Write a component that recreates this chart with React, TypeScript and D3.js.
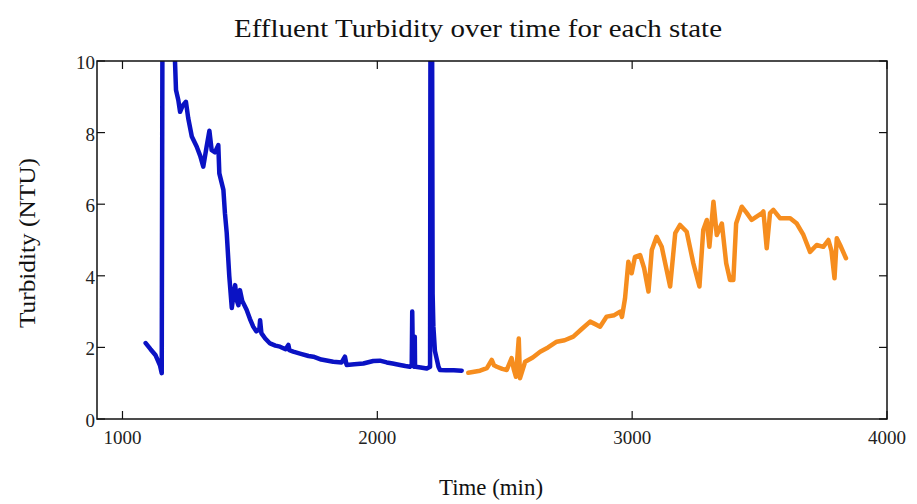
import React from "react";
import * as d3 from "d3";

const title = "Effluent Turbidity over time for each state";
const xLabel = "Time (min)";
const yLabel = "Turbidity (NTU)";
const xTicks = [1000, 2000, 3000, 4000];
const yTicks = [0, 2, 4, 6, 8, 10];

// State 1 (blue)
const blueTime = [1091, 1110, 1130, 1147, 1154, 1158, 1200, 1206, 1210, 1219, 1226, 1236, 1249, 1258, 1272, 1291, 1305, 1317, 1330, 1341, 1350, 1363, 1376, 1380, 1396, 1402, 1409, 1419, 1429, 1436, 1442, 1449, 1455, 1461, 1470, 1487, 1500, 1513, 1525, 1537, 1540, 1545, 1560, 1579, 1600, 1618, 1640, 1651, 1655, 1670, 1700, 1730, 1749, 1780, 1827, 1860, 1873, 1878, 1880, 1910, 1945, 1984, 2010, 2037, 2060, 2089, 2110, 2128, 2135, 2137, 2140, 2144, 2147, 2148, 2150, 2170, 2194, 2207, 2209, 2214, 2217, 2220, 2226, 2240, 2246, 2270, 2300, 2331];
const blueValue = [2.12, 1.95, 1.78, 1.5, 1.28, 15, 15, 10.0, 9.19, 8.91, 8.58, 8.75, 8.86, 8.4, 7.89, 7.61, 7.35, 7.05, 7.6, 8.05, 7.51, 7.45, 7.65, 6.86, 6.4, 5.75, 5.2, 4.0, 3.1, 3.5, 3.74, 3.3, 3.18, 3.6, 3.3, 3.05, 2.8, 2.58, 2.45, 2.5, 2.76, 2.4, 2.25, 2.11, 2.05, 2.02, 1.95, 2.07, 1.92, 1.88, 1.82, 1.76, 1.74, 1.66, 1.6, 1.58, 1.74, 1.55, 1.51, 1.53, 1.55, 1.62, 1.63, 1.58, 1.55, 1.51, 1.48, 1.46, 1.5, 3.0, 1.5, 1.46, 2.3, 1.5, 1.46, 1.44, 1.41, 1.46, 14, 14, 3.5, 2.58, 1.9, 1.46, 1.37, 1.36, 1.36, 1.35];

// State 2 (orange)
const orangeTime = [2357, 2380, 2403, 2430, 2449, 2458, 2469, 2490, 2508, 2527, 2535, 2544, 2555, 2560, 2580, 2610, 2639, 2670, 2704, 2735, 2769, 2800, 2835, 2855, 2874, 2900, 2930, 2953, 2960, 2972, 2985, 2998, 3011, 3031, 3047, 3064, 3077, 3096, 3116, 3149, 3169, 3188, 3214, 3240, 3264, 3279, 3293, 3303, 3319, 3332, 3352, 3369, 3384, 3397, 3408, 3430, 3450, 3469, 3509, 3515, 3528, 3541, 3554, 3580, 3620, 3646, 3672, 3698, 3724, 3750, 3770, 3782, 3794, 3803, 3816, 3839];
const orangeValue = [1.29, 1.32, 1.35, 1.42, 1.65, 1.5, 1.46, 1.4, 1.37, 1.7, 1.4, 1.18, 2.25, 1.14, 1.6, 1.72, 1.88, 2.0, 2.16, 2.2, 2.3, 2.5, 2.72, 2.65, 2.58, 2.86, 2.9, 3.0, 2.85, 3.37, 4.39, 4.07, 4.53, 4.58, 4.21, 3.56, 4.72, 5.09, 4.81, 3.7, 5.19, 5.42, 5.23, 4.35, 3.7, 5.28, 5.56, 4.81, 6.07, 5.14, 5.46, 4.35, 3.88, 3.88, 5.46, 5.93, 5.75, 5.56, 5.75, 5.8, 4.77, 5.75, 5.84, 5.61, 5.61, 5.46, 5.14, 4.67, 4.86, 4.81, 5.0, 4.7, 3.93, 5.05, 4.86, 4.49];

export default function App() {
  const W = 917, H = 504;
  const left = 97, right = 887, top = 61, bottom = 419;
  const x = d3.scaleLinear().domain([900, 4000]).range([left, right]);
  const y = d3.scaleLinear().domain([0, 10]).range([bottom, top]);
  const line = d3.line<[number, number]>().x(d => x(d[0])).y(d => y(d[1]));
  const blue = blueTime.map((t, i) => [t, blueValue[i]] as [number, number]);
  const orange = orangeTime.map((t, i) => [t, orangeValue[i]] as [number, number]);
  const font = "'Liberation Serif', 'Times New Roman', serif";
  const tickLen = 8;
  return (
    <div style={{ position: "absolute", left: 0, top: 0 }}>
      <svg width={W} height={H} style={{ display: "block", background: "#fff" }}>
        <defs>
          <clipPath id="plotClip">
            <rect x={left} y={top} width={right - left} height={bottom - top} />
          </clipPath>
        </defs>
        <text x={478} y={37} textAnchor="middle" fontFamily={font} fontSize={25} fill="#111" textLength={488} lengthAdjust="spacingAndGlyphs">{title}</text>
        <g clipPath="url(#plotClip)" fill="none" strokeLinejoin="round" strokeLinecap="round">
          <path d={line(blue) || ""} stroke="#0A12C4" strokeWidth={4.5} />
          <path d={line(orange) || ""} stroke="#F68D1E" strokeWidth={4.5} />
        </g>
        <rect x={left} y={top} width={right - left} height={bottom - top} fill="none" stroke="#111" strokeWidth={1.5} />
        {xTicks.map(t => (
          <g key={"x" + t}>
            <line x1={x(t)} x2={x(t)} y1={bottom} y2={bottom - tickLen} stroke="#111" strokeWidth={1.2} />
            <line x1={x(t)} x2={x(t)} y1={top} y2={top + tickLen} stroke="#111" strokeWidth={1.2} />
            <text x={x(t)} y={bottom + 25} textAnchor="middle" fontFamily={font} fontSize={19} fill="#222">{t}</text>
          </g>
        ))}
        {yTicks.map(t => (
          <g key={"y" + t}>
            <line x1={left} x2={left + tickLen} y1={y(t)} y2={y(t)} stroke="#111" strokeWidth={1.2} />
            <line x1={right} x2={right - tickLen} y1={y(t)} y2={y(t)} stroke="#111" strokeWidth={1.2} />
            <text x={left - 2} y={y(t) + 8} textAnchor="end" fontFamily={font} fontSize={19} fill="#222">{t}</text>
          </g>
        ))}
        <text x={491} y={495} textAnchor="middle" fontFamily={font} fontSize={23} fill="#111" textLength={104} lengthAdjust="spacingAndGlyphs">{xLabel}</text>
        <text transform={`translate(35,${243}) rotate(-90)`} textAnchor="middle" fontFamily={font} fontSize={23} fill="#111" textLength={170} lengthAdjust="spacingAndGlyphs">{yLabel}</text>
      </svg>
    </div>
  );
}
